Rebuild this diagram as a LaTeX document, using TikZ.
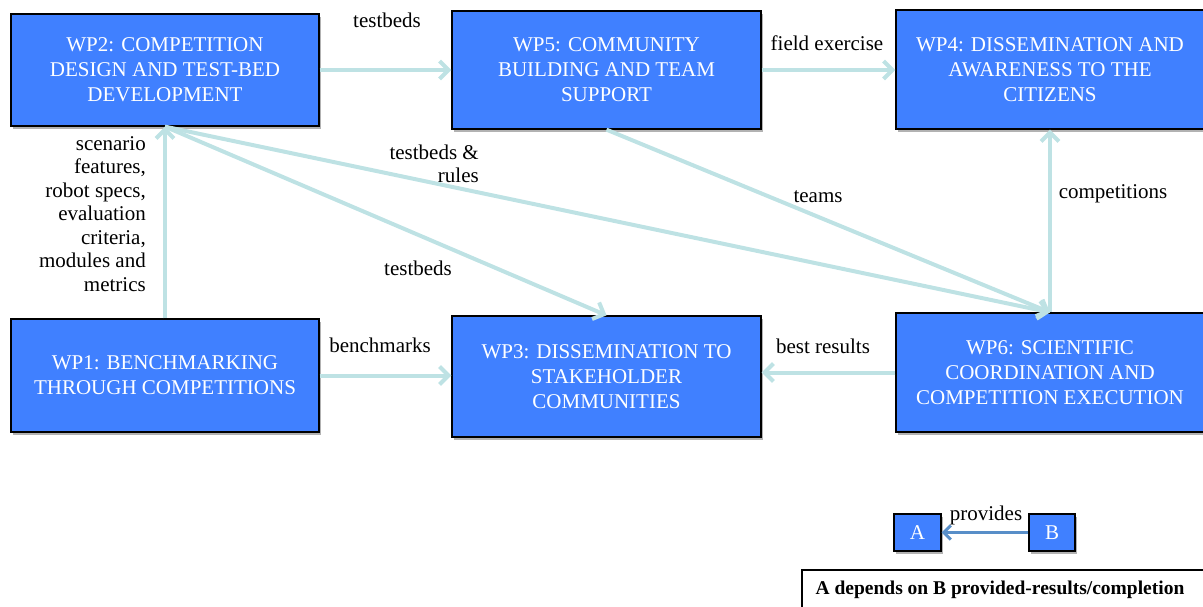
\documentclass[tikz,border=0pt]{standalone}
\usepackage{fontspec}
\setmainfont{Liberation Serif}
\usetikzlibrary{arrows.meta,shadows}
\definecolor{wpblue}{RGB}{64,128,255}
\definecolor{flow}{RGB}{190,226,228}
\definecolor{legendarrow}{RGB}{88,142,200}
\begin{document}
\begin{tikzpicture}[x=1pt,y=-1pt,
  wp/.style={draw=black, line width=1.3pt, fill=wpblue, text=white, align=center,
    font=\fontsize{21}{25}\selectfont, inner sep=0pt,
    drop shadow={shadow xshift=1.5pt, shadow yshift=-2.5pt, fill=black, opacity=0.3}},
  flowarrow/.style={draw=flow, line width=4pt, -{Straight Barb[length=9pt,width=18pt]}},
  lbl/.style={font=\fontsize{21}{23.5}\selectfont, inner sep=0pt}]
\useasboundingbox (0,0) rectangle (1203,606);

% work packages
\node[wp, minimum width=308pt, minimum height=112pt] (wp2) at (165,70)
  {WP2: COMPETITION\\DESIGN AND TEST-BED\\DEVELOPMENT};
\node[wp, minimum width=309pt, minimum height=118pt] (wp5) at (606.5,70)
  {WP5: COMMUNITY\\BUILDING AND TEAM\\SUPPORT};
\node[wp, minimum width=308pt, minimum height=119pt] (wp4) at (1050,69.5)
  {WP4: DISSEMINATION AND\\AWARENESS TO THE\\CITIZENS};
\node[wp, minimum width=308pt, minimum height=113pt] (wp1) at (165,375.5)
  {WP1: BENCHMARKING\\THROUGH COMPETITIONS};
\node[wp, minimum width=309pt, minimum height=121pt] (wp3) at (606.5,376.5)
  {WP3: DISSEMINATION TO\\STAKEHOLDER\\COMMUNITIES};
\node[wp, minimum width=308pt, minimum height=119pt] (wp6) at (1050,372.5)
  {WP6: SCIENTIFIC\\COORDINATION AND\\COMPETITION EXECUTION};

% dependencies
\draw[flowarrow] (wp2.east) -- (wp2.east -| wp5.west);
\draw[flowarrow] (wp5.east) -- (wp5.east -| wp4.west);
\draw[flowarrow] (wp1.north) -- (wp2.south);
\draw[flowarrow] (wp2.south) -- (wp3.north);
\draw[flowarrow] (wp2.south) -- (wp6.north);
\draw[flowarrow] (wp5.south) -- (wp6.north);
\draw[flowarrow] (wp6.north) -- (wp4.south);
\draw[flowarrow] (wp1.east) -- (wp1.east -| wp3.west);
\draw[flowarrow] (wp6.west) -- (wp6.west -| wp3.east);

% labels
\node[lbl] (l-tb1) at (387,20) {testbeds};
\node[lbl] (l-field) at (827,43) {field exercise};
\node[lbl, align=right, anchor=east] (l-specs) at (146,214)
  {scenario\\features,\\robot specs,\\evaluation\\criteria,\\modules and\\metrics};
\node[lbl, align=right, anchor=east] (l-rules) at (479,164) {testbeds \&\\rules};
\node[lbl] (l-tb2) at (418,268) {testbeds};
\node[lbl] (l-teams) at (818,197) {teams};
\node[lbl] (l-comp) at (1113,194) {competitions};
\node[lbl] (l-bench) at (380,345) {benchmarks};
\node[lbl] (l-best) at (823,346) {best results};

% legend
\node[wp, minimum width=47pt, minimum height=37pt] (la) at (917.5,532.5) {A};
\node[wp, minimum width=46pt, minimum height=37pt] (lb) at (1052,532.5) {B};
\draw[draw=legendarrow, line width=3pt, -{Straight Barb[length=7pt,width=14pt]}] (lb.west) -- (la.east);
\node[lbl] (l-prov) at (986,515) {provides};
\draw[line width=1.3pt] (802,612) -- (802,570) -- (1210,570);
\node[font=\bfseries\fontsize{19.5}{22}\selectfont, inner sep=0pt] (l-key) at (1000,590)
  {A depends on B provided-results/completion};
\end{tikzpicture}
\end{document}
